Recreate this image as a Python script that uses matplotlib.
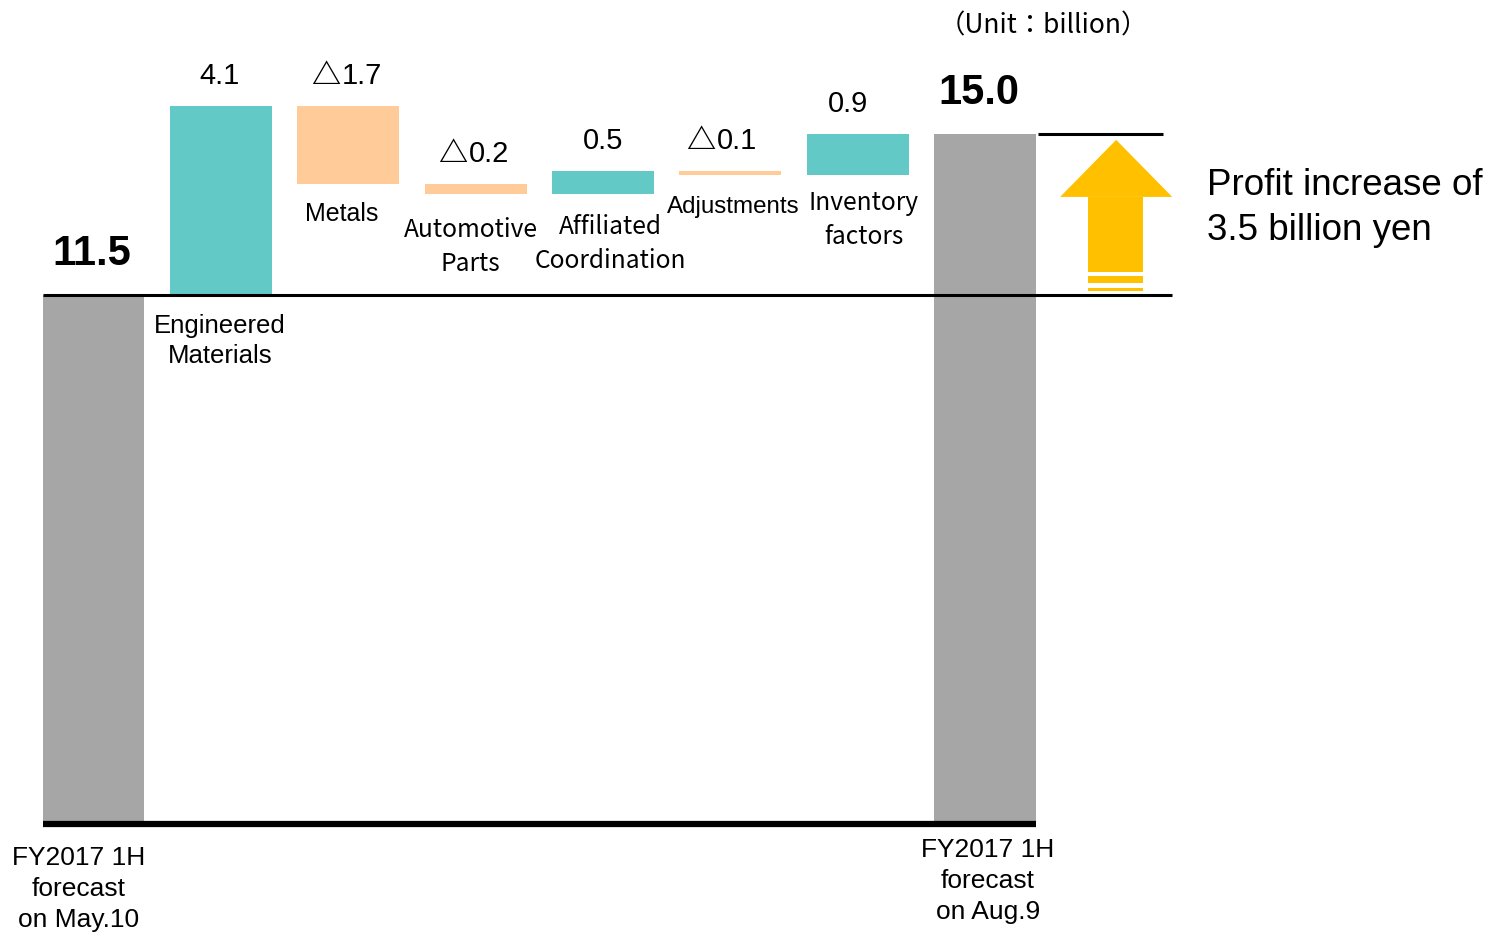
import matplotlib
matplotlib.use("Agg")
import matplotlib.pyplot as plt
from matplotlib.patches import Polygon, Rectangle
import numpy as np

# data (billion yen)
categories = ["FY2017 1H\nforecast\non May.10", "Engineered\nMaterials", "Metals",
              "Automotive\nParts", "Affiliated\nCoordination", "Adjustments",
              "Inventory\nfactors", "FY2017 1H\nforecast\non Aug.9"]
start_value = 11.5
deltas = [4.1, -1.7, -0.2, 0.5, -0.1, 0.9]
end_value = 15.0
value_labels = ["11.5", "4.1", "\u25b31.7", "\u25b30.2", "0.5", "\u25b30.1", "0.9", "15.0"]

GRAY = "#a6a6a6"
TEAL = "#62c9c6"
PEACH = "#ffcc99"
GOLD = "#ffc000"

W, H = 1491, 933
fig = plt.figure(figsize=(W / 100, H / 100), dpi=100)
ax = fig.add_axes([0, 0, 1, 1])
ax.set_xlim(-0.734, 10.973)
ax.set_ylim(-2.37, 17.91)
ax.axis("off")

sans = ["Liberation Sans", "DejaVu Sans"]
cjk = ["Noto Sans CJK JP", "DejaVu Sans"]

x = np.arange(len(categories))
bw = 0.8

# waterfall geometry
cum = start_value + np.cumsum([0] + deltas)
bottoms = [0.0]
heights = [start_value]
for i, d in enumerate(deltas):
    lo = min(cum[i], cum[i + 1])
    bottoms.append(lo)
    heights.append(abs(d))
bottoms.append(0.0)
heights.append(end_value)
colors = [GRAY] + [TEAL if d > 0 else PEACH for d in deltas] + [GRAY]

ax.bar(x, heights, bottom=bottoms, width=bw, color=colors, linewidth=0)

# reference lines
ax.plot([-0.4, 7.4], [0, 0], color="black", lw=4.5, solid_capstyle="butt")
ax.plot([-0.4, 8.47], [start_value, start_value], color="black", lw=2.2, solid_capstyle="butt")
ax.plot([7.42, 8.40], [end_value, end_value], color="black", lw=2.2, solid_capstyle="butt")

# value labels above the bars
tops = [b + h for b, h in zip(bottoms, heights)]
val_dx = [-2, -1, 0, 0, 0, -7, -10, -6]
for i, (t, lab) in enumerate(zip(tops, value_labels)):
    bold = i in (0, len(value_labels) - 1)
    if lab.startswith("\u25b3"):
        # triangle from the CJK font, digits in Arial-like face
        ax.annotate("\u25b3", (x[i], t), xytext=(val_dx[i] - 23, 31),
                    textcoords="offset pixels", ha="center", va="center",
                    fontsize=21, family=cjk, fontweight="bold")
        ax.annotate(lab[1:], (x[i], t), xytext=(val_dx[i] + 14, 30),
                    textcoords="offset pixels", ha="center", va="center",
                    fontsize=21, family=sans)
        continue
    ax.annotate(lab, (x[i], t), xytext=(val_dx[i], 41 if bold else 30),
                textcoords="offset pixels", ha="center", va="center",
                fontsize=30 if bold else 21, fontweight="bold" if bold else "normal",
                family=sans)

# category labels below the bars
cat_dx = [-15, -1, -7, -5, 7, 3, 6, 3]
cat_dy = [65, 46, 30, 53, 50, 32, 45, 57]
cat_font = [sans, sans, sans, cjk, cjk, sans, cjk, sans]
cat_size = [19, 18.5, 18, 17.7, 17.7, 17.4, 17.7, 19]
cat_ls = [1.37, 1.3, 1.3, 1.4, 1.4, 1.3, 1.4, 1.37]
for i, lab in enumerate(categories):
    ax.annotate(lab, (x[i], bottoms[i]), xytext=(cat_dx[i], -cat_dy[i]),
                textcoords="offset pixels", ha="center", va="center",
                fontsize=cat_size[i], family=cat_font[i], linespacing=cat_ls[i])

# up arrow showing the increase
head = Polygon([(7.59, 13.63), (8.03, 14.87), (8.47, 13.63)], closed=True,
               color=GOLD, lw=0)
ax.add_patch(head)
ax.add_patch(Rectangle((7.81, 12.0), 0.43, 13.63 - 12.0, color=GOLD, lw=0))
ax.add_patch(Rectangle((7.81, 11.76), 0.43, 0.16, color=GOLD, lw=0))
ax.add_patch(Rectangle((7.81, 11.58), 0.43, 0.08, color=GOLD, lw=0))

ax.text(8.74, 13.39, "Profit increase of\n3.5 billion yen", ha="left", va="center",
        fontsize=26.5, family=sans, linespacing=1.35)

ax.text(7.46, 17.35, "\uff08Unit\uff1abillion\uff09", ha="center", va="center",
        fontsize=19, family=cjk)

fig.savefig("out.png", dpi=100)
